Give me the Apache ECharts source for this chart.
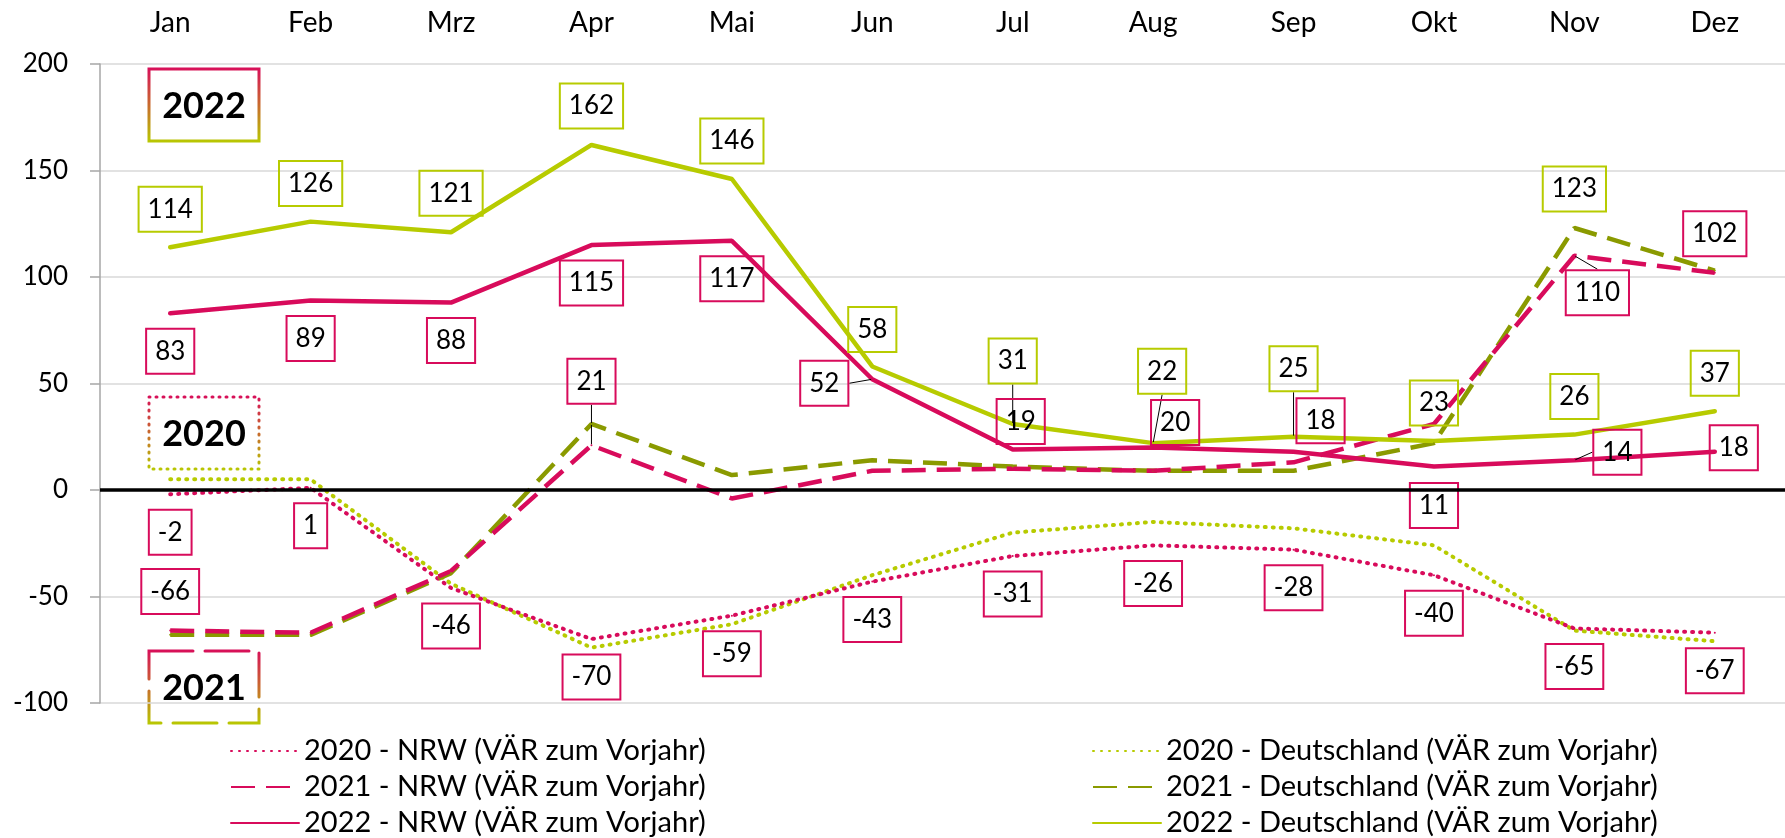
<!DOCTYPE html>
<html>
<head>
<meta charset="utf-8">
<script src="https://cdn.jsdelivr.net/npm/echarts@6/dist/echarts.min.js"></script>
<style>
  html, body { margin: 0; padding: 0; background: #fff; }
  #chart { width: 1785px; height: 838px; }
</style>
</head>
<body>
<div id="chart"></div>
<script>
// Kategorien und Achse
const months = ['Jan', 'Feb', 'Mrz', 'Apr', 'Mai', 'Jun', 'Jul', 'Aug', 'Sep', 'Okt', 'Nov', 'Dez'];
const yMin = -100;
const yMax = 200;
const yStep = 50;

// Werte (VÄR zum Vorjahr, %)
const nrw2020 = [-2, 1, -46, -70, -59, -43, -31, -26, -28, -40, -65, -67];
const nrw2021 = [-66, -67, -38, 21, -4, 9, 10, 9, 13, 31, 110, 102];
const nrw2022 = [83, 89, 88, 115, 117, 52, 19, 20, 18, 11, 14, 18];
const de2020 = [5, 5, -44, -74, -63, -40, -20, -15, -18, -26, -66, -71];
const de2021 = [-68, -68, -39, 31, 7, 14, 11, 9, 9, 22, 123, 103];
const de2022 = [114, 126, 121, 162, 146, 58, 31, 22, 25, 23, 26, 37];

const crimson = '#D80B5B';
const lime = '#B7CB00';
const olive = '#8A9A00';
const font = 'Lato';

// Lage der Wertebeschriftungen (Pixelversatz zum Punkt)
const below = [0, 38];
const above = [0, -38];
const posNrw2020 = months.map(() => below);
const posNrw2021 = { 0: [0, -39], 3: [0, -64], 10: [23, 37], 11: [0, -39] };
const posNrw2022 = [below, below, below, below, below, [-48, 4], [8, -28], [22, -25], [27, -31], [0, 39], [43, -8], [19, -4]];
const posDe2021 = { 10: [0, -39] };
const posDe2022 = [above, above, [0, -39], [0, -39], above, [0, -37], [0, -63], [9, -72], [0, -68], above, above, above];

const dotted = { type: [1, 7], width: 4, cap: 'round' };
const dashed = { type: [24, 11], width: 4.5, cap: 'butt' };
const solid = { type: 'solid', width: 4.5, cap: 'round' };

function lineSeries(name, values, color, style, labelColor, labelPos, leaders) {
  return {
    name: name,
    type: 'line',
    data: values.map((v, i) => ({
      value: v,
      label: { show: labelPos[i] !== undefined },
      labelLine: { show: leaders.indexOf(i) >= 0 }
    })),
    symbol: labelColor ? 'circle' : 'none',
    symbolSize: 2,
    itemStyle: { color: color },
    lineStyle: { color: color, width: style.width, type: style.type, cap: style.cap },
    label: {
      show: false,
      position: 'inside',
      fontSize: 26,
      fontFamily: font,
      color: '#000',
      lineHeight: 27,
      padding: [9, 9, 9, 9],
      borderColor: labelColor || color,
      borderWidth: 2
    },
    labelLine: { show: false, lineStyle: { color: '#000', width: 1 } },
    labelLayout: function (p) {
      const o = labelPos[p.dataIndex];
      return o ? { dx: o[0], dy: o[1] } : {};
    },
    emphasis: { disabled: true }
  };
}

const nrwNames = ['2020 - NRW (VÄR zum Vorjahr)', '2021 - NRW (VÄR zum Vorjahr)', '2022 - NRW (VÄR zum Vorjahr)'];
const deNames = ['2020 - Deutschland (VÄR zum Vorjahr)', '2021 - Deutschland (VÄR zum Vorjahr)', '2022 - Deutschland (VÄR zum Vorjahr)'];

const chart = echarts.init(document.getElementById('chart'));

const series = [
  lineSeries(deNames[0], de2020, lime, dotted, null, {}, []),
  lineSeries(nrwNames[0], nrw2020, crimson, dotted, crimson, posNrw2020, []),
  lineSeries(deNames[1], de2021, olive, dashed, lime, posDe2021, []),
  lineSeries(nrwNames[1], nrw2021, crimson, dashed, crimson, posNrw2021, [3, 10]),
  lineSeries(deNames[2], de2022, lime, solid, lime, posDe2022, [6, 7, 8]),
  lineSeries(nrwNames[2], nrw2022, crimson, solid, crimson, posNrw2022, [5, 10])
];

// Nulllinie
series[0].markLine = {
  silent: true,
  symbol: ['none', 'none'],
  label: { show: false },
  lineStyle: { color: '#000', width: 3.5, type: 'solid' },
  emphasis: { disabled: true },
  data: [{ yAxis: 0 }]
};

const legendBase = {
  orient: 'vertical',
  top: 733,
  height: 120,
  padding: 0,
  itemWidth: 68,
  itemHeight: 14,
  itemGap: 0,
  textStyle: { fontSize: 29, fontFamily: font, color: '#000', lineHeight: 36 },
  itemStyle: { color: 'transparent', borderColor: 'transparent', borderWidth: 0 }
};

function gradient() {
  return new echarts.graphic.LinearGradient(0, 0, 0, 1, [
    { offset: 0, color: crimson },
    { offset: 1, color: lime }
  ]);
}

function yearBox(year, top, dash) {
  return [
    {
      type: 'rect',
      shape: { x: 149, y: top, width: 110, height: 72 },
      style: { fill: 'none', stroke: gradient(), lineWidth: 3, lineDash: dash, lineCap: dash ? 'round' : 'butt' }
    },
    {
      type: 'text',
      x: 204,
      y: top + 37,
      style: {
        text: year, fontSize: 36, fontWeight: 'bold', fontFamily: font,
        fill: '#000', align: 'center', verticalAlign: 'middle'
      }
    }
  ];
}

const option = {
  animation: false,
  backgroundColor: '#fff',
  grid: { left: 100, top: 64, width: 1700, height: 639 },
  xAxis: {
    type: 'category',
    data: months,
    position: 'top',
    boundaryGap: true,
    axisLine: { show: false, onZero: false },
    axisTick: { show: false },
    axisLabel: { fontSize: 28, fontFamily: font, color: '#000', margin: 27, interval: 0 },
    splitLine: { show: false }
  },
  yAxis: {
    type: 'value',
    min: yMin,
    max: yMax,
    interval: yStep,
    axisLine: { show: true, lineStyle: { color: '#a6a6a6', width: 1.5 } },
    axisTick: { show: true, length: 10, lineStyle: { color: '#a6a6a6', width: 1.5 } },
    axisLabel: { fontSize: 26, fontFamily: font, color: '#000', margin: 32 },
    splitLine: { lineStyle: { color: '#d9d9d9', width: 1.5 } }
  },
  legend: [
    Object.assign({}, legendBase, { left: 230, data: nrwNames }),
    Object.assign({}, legendBase, { left: 1092, data: deNames })
  ],
  graphic: [].concat(
    yearBox('2022', 69, null),
    yearBox('2020', 397, [1, 6]),
    yearBox('2021', 651, [44, 12])
  ),
  series: series
};

chart.setOption(option);
</script>
</body>
</html>
